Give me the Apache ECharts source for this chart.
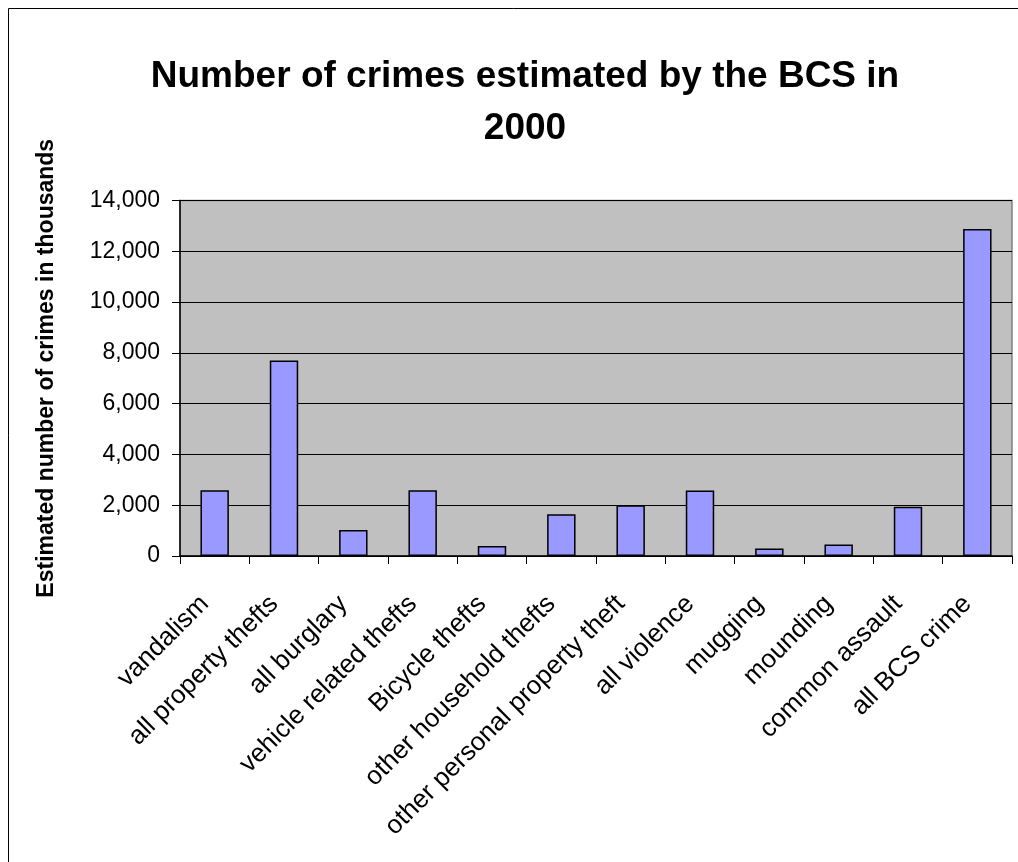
<!DOCTYPE html>
<html>
<head>
<meta charset="utf-8">
<script src="https://cdn.jsdelivr.net/npm/echarts@6/dist/echarts.min.js"></script>
<style>
html,body{margin:0;padding:0;background:#fff;}
#chart{width:1018px;height:862px;}
</style>
</head>
<body>
<div id="chart"></div>
<script>
const categories = ["vandalism","all property thefts","all burglary","vehicle related thefts","Bicycle thefts","other household thefts","other personal property theft","all violence","mugging","mounding","common assault","all BCS crime"];
const values = [2590, 7700, 1020, 2590, 390, 1640, 2000, 2580, 300, 450, 1940, 12880];
const yTicks = [0, 2000, 4000, 6000, 8000, 10000, 12000, 14000];

const chart = echarts.init(document.getElementById('chart'));
const font = '"Liberation Sans", Arial, sans-serif';
chart.setOption({
  animation: false,
  backgroundColor: '#ffffff',
  title: {
    text: 'Number of crimes estimated by the BCS in\n2000',
    left: 520, top: 46, textAlign: 'center',
    textStyle: { fontFamily: font, fontSize: 37, fontWeight: 'bold', color: '#000', lineHeight: 52 }
  },
  graphic: [{
    type: 'rect', z: -1, silent: true,
    shape: { x: 8.5, y: 8.5, width: 1060, height: 900 },
    style: { fill: 'none', stroke: '#000', lineWidth: 1 }
  }],
  grid: {
    left: 180, right: 6, top: 200.5, bottom: 306,
    show: true, backgroundColor: '#c0c0c0', borderColor: '#808080', borderWidth: 1.5
  },
  xAxis: {
    type: 'category', data: categories,
    axisLine: { lineStyle: { color: '#000', width: 1.5 } },
    axisTick: { show: true, length: 8, lineStyle: { color: '#000' } },
    axisLabel: { interval: 0, rotate: 45, margin: 34, padding: [0, 14, 0, 0], fontFamily: font, fontSize: 26, color: '#000' }
  },
  yAxis: {
    type: 'value', min: 0, max: 14000, interval: 2000,
    name: 'Estimated number of crimes in thousands',
    nameLocation: 'middle', nameGap: 122, nameRotate: 90,
    nameTextStyle: { fontFamily: font, fontSize: 23, fontWeight: 'bold', color: '#000', padding: [0, 0, 0, 20] },
    axisLine: { show: true, lineStyle: { color: '#000', width: 1.5 } },
    axisTick: { show: true, length: 8, lineStyle: { color: '#000' } },
    splitLine: { lineStyle: { color: '#000', width: 1 } },
    axisLabel: {
      margin: 20, fontFamily: font, fontSize: 23, color: '#000',
      formatter: v => yTicks.includes(v) ? v.toLocaleString('en-US') : ''
    }
  },
  series: [{
    type: 'bar', data: values, barWidth: '41%',
    itemStyle: { color: '#9999ff', borderColor: '#000', borderWidth: 1.5 }
  }]
});
</script>
</body>
</html>
